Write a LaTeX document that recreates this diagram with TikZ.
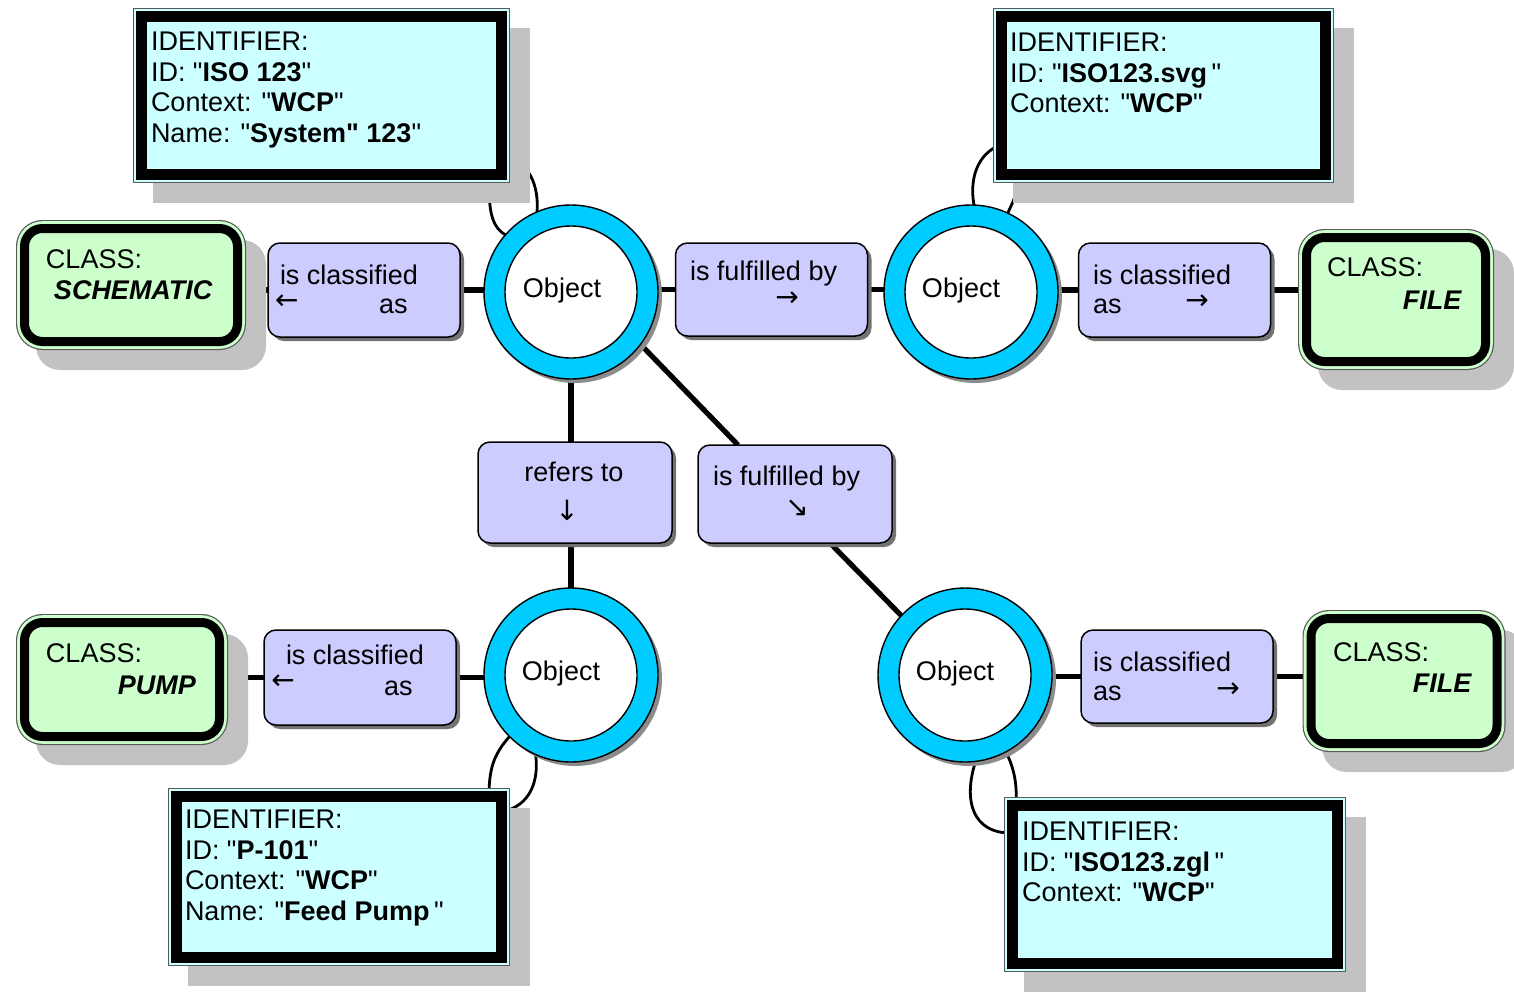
\documentclass[tikz,border=0pt]{standalone}
\usepackage{fontspec}
\newfontfamily\diagfont{Liberation Sans}
\newfontfamily\arrowfont{DejaVu Sans}
\usetikzlibrary{shadows,backgrounds}
\definecolor{ringcyan}{HTML}{00CCFF}
\definecolor{idcyan}{HTML}{CCFFFF}
\definecolor{classgreen}{HTML}{CCFFCC}
\definecolor{relpurple}{HTML}{CCCCFF}
\definecolor{shadowgray}{HTML}{C2C2C2}
\begin{document}
\begin{tikzpicture}[x=0.5pt,y=-0.5pt,
  font=\diagfont\fontsize{13.5}{15.3}\selectfont,
  conn/.style={line width=2.6pt},
  loopc/.style={line width=1.4pt},
  ring/.style={circle, minimum size=87pt, inner sep=0pt, outer sep=0pt, fill=ringcyan, draw=black, line width=0.7pt,
    drop shadow={shadow xshift=2pt, shadow yshift=-2pt, fill=black!45, opacity=1}},
  hole/.style={circle, minimum size=66pt, inner sep=0pt, outer sep=0pt, fill=white, draw=black, line width=0.7pt},
  relbox/.style={rectangle, rounded corners=6pt, minimum width=96pt, inner sep=0pt, outer sep=0pt, fill=relpurple, draw=black, line width=0.75pt,
    drop shadow={shadow xshift=2pt, shadow yshift=-2pt, fill=black!55, opacity=1}},
  classbox/.style={rectangle, rounded corners=9pt, inner sep=0pt, outer sep=0pt, fill=classgreen, draw=black, line width=4.5pt,
    preaction={draw=black!65, line width=8.5pt}, preaction={draw=classgreen, line width=7.3pt}},
  idbox/.style={rectangle, inner sep=0pt, outer sep=0pt, fill=idcyan, draw=black, line width=5.5pt,
    preaction={draw=black!65, line width=8.5pt}, preaction={draw=idcyan, line width=7.3pt}},
  txt/.style={inner sep=0pt, outer sep=0pt},
  idtxt/.style={txt, align=left, anchor=north west},
  arr/.style={txt, font=\arrowfont\fontsize{14}{15.25}\selectfont},
  boxshadow/.style={fill=shadowgray}
]
\useasboundingbox (0,0) rectangle (1514,991);

% ---------- identifier boxes ----------
\node[idbox, minimum width=180pt, minimum height=79pt] (i1) at (321.5,95.5) {};
\node[idbox, minimum width=162pt, minimum height=79pt] (i2) at (1163.5,95.5) {};
\node[idbox, minimum width=162.5pt, minimum height=80.5pt] (i3) at (339,877) {};
\node[idbox, minimum width=162.5pt, minimum height=79pt] (i4) at (1175,884.5) {};

\node[idtxt] (i1t) at (151,32) {IDENTIFIER:\\ID: "\textbf{ISO 123}"\\Context: "\textbf{WCP}"\\Name: "\textbf{System" 123}"};
\node[idtxt] (i2t) at (1010,33) {IDENTIFIER:\\ID: "\textbf{ISO123.svg}\,"\\Context: "\textbf{WCP}"};
\node[idtxt] (i3t) at (185,810) {IDENTIFIER:\\ID: "\textbf{P-101}"\\Context: "\textbf{WCP}"\\Name: "\textbf{Feed Pump}\,"};
\node[idtxt] (i4t) at (1022,822) {IDENTIFIER:\\ID: "\textbf{ISO123.zgl}\,"\\Context: "\textbf{WCP}"};

% ---------- class boxes ----------
\node[classbox, minimum width=106.5pt, minimum height=56.5pt] (k1) at (131,285) {};
\node[classbox, minimum width=89.5pt, minimum height=62pt] (k2) at (1396,299.5) {};
\node[classbox, minimum width=97.5pt, minimum height=57pt] (k3) at (122,679.5) {};
\node[classbox, minimum width=93pt, minimum height=62.5pt] (k4) at (1404,681) {};

\node[txt, anchor=west] (k1a) at (46,259) {CLASS:};
\node[txt, anchor=west] (k1b) at (54,290) {\textbf{\textit{SCHEMATIC}}};
\node[txt, anchor=west] (k2a) at (1327,267) {CLASS:};
\node[txt, anchor=east] (k2b) at (1462,300) {\textbf{\textit{FILE}}};
\node[txt, anchor=west] (k3a) at (46,653) {CLASS:};
\node[txt, anchor=east] (k3b) at (196,685) {\textbf{\textit{PUMP}}};
\node[txt, anchor=west] (k4a) at (1333,652) {CLASS:};
\node[txt, anchor=east] (k4b) at (1472,683) {\textbf{\textit{FILE}}};

% ---------- relation boxes ----------
\node[relbox, minimum height=47pt] (r1) at (364,290) {};
\node[relbox, minimum height=46.5pt] (r2) at (771.5,289.5) {};
\node[relbox, minimum height=47pt] (r3) at (1174.5,290) {};
\node[relbox, minimum width=97pt, minimum height=50.5pt] (r4) at (575,492.5) {};
\node[relbox, minimum width=97pt, minimum height=49pt] (r5) at (795,494) {};
\node[relbox, minimum height=47.5pt] (r6) at (360,677.5) {};
\node[relbox, minimum height=46.5pt] (r7) at (1177,676.5) {};

\node[txt, anchor=west] (r1a) at (280,275) {is classified};
\node[arr, anchor=west] (r1b) at (275,302) {←};
\node[txt, anchor=west] (r1c) at (379,306) {as};
\node[txt, anchor=west] (r2a) at (690,274) {is fulfilled by};
\node[arr] (r2b) at (787,299) {→};
\node[txt, anchor=west] (r3a) at (1093,275) {is classified};
\node[txt, anchor=west] (r3c) at (1093,306) {as};
\node[arr] (r3b) at (1197,302) {→};
\node[txt] (r4a) at (574,472) {refers to};
\node[arr] (r4b) at (567,510) {↓};
\node[txt, anchor=west] (r5a) at (713,479) {is fulfilled by};
\node[arr] (r5b) at (797,508) {↘};
\node[txt, anchor=west] (r6a) at (286,655) {is classified};
\node[arr] (r6b) at (283,682) {←};
\node[txt, anchor=west] (r6c) at (384,688) {as};
\node[txt, anchor=west] (r7a) at (1093,662) {is classified};
\node[txt, anchor=west] (r7c) at (1093,693) {as};
\node[arr] (r7b) at (1228,690) {→};

% ---------- object circles ----------
\node[ring] (c1) at (571,292) {};
\node[hole] (c1h) at (c1) {};
\node[txt] (c1t) at (562,291) {Object};
\node[ring] (c2) at (971,292) {};
\node[hole] (c2h) at (c2) {};
\node[txt] (c2t) at (961,291) {Object};
\node[ring] (c3) at (571,675) {};
\node[hole] (c3h) at (c3) {};
\node[txt] (c3t) at (561,674) {Object};
\node[ring] (c4) at (965,675) {};
\node[hole] (c4h) at (c4) {};
\node[txt] (c4t) at (955,674) {Object};

% ---------- connectors and shadows (behind) ----------
\begin{scope}[on background layer]
  % top row
  \draw[conn] (r1.west -| k1.center) -- (r1.center) -- (r1.center -| c1.center);
  \draw[conn] (r2.center -| c1.center) -- (r2.center) -- (r2.center -| c2.center);
  \draw[conn] (r3.center -| c2.center) -- (r3.center) -- (r3.center -| k2.center);
  % bottom row
  \draw[conn] (r6.center -| k3.center) -- (r6.center) -- (r6.center -| c3.center);
  \draw[conn] (r7.center -| c4.center) -- (r7.center) -- (r7.center -| k4.center);
  % vertical refers to
  \draw[conn] (c1.south) -- (c1.south |- r4.north);
  \draw[conn] (c3.north) -- (c3.north |- r4.south);
  % diagonal is fulfilled by
  \draw[conn] (c1.-37) -- ([xshift=20pt]r5.north west);
  \draw[conn] ([xshift=66pt]r5.south west) -- (c4.137);
  % identifier loops
  \draw[loopc] ([xshift=-5.75pt]i1.south east) .. controls (487,215) and (494,228) .. (c1.139);
  \draw[loopc] ([yshift=-29.75pt]i1.east) .. controls (530,160) and (539,187) .. (c1.113);
  \draw[loopc] ([yshift=-24.75pt]i2.west) .. controls (983,150) and (968,172) .. (c2.88);
  \draw[loopc] ([xshift=8.25pt]i2.south west) .. controls (1018,195) and (1012,203) .. (c2.65);
  \draw[loopc] (c3.-135) .. controls (493,755) and (489,770) .. ([xshift=-6.25pt]i3.north east);
  \draw[loopc] (c3.-114) .. controls (539,780) and (531,806) .. ([yshift=32.5pt]i3.east);
  \draw[loopc] (c4.-83) .. controls (963,800) and (972,834) .. ([yshift=25.75pt]i4.west);
  \draw[loopc] (c4.-62) .. controls (1015,770) and (1017,785) .. ([xshift=1.75pt]i4.north west);
  % box shadows
  \fill[boxshadow] ([shift={(5.75pt,-5.75pt)}]i1.north west) rectangle ([shift={(14.25pt,-14.25pt)}]i1.south east);
  \fill[boxshadow] ([shift={(5.75pt,-5.75pt)}]i2.north west) rectangle ([shift={(14.25pt,-14.25pt)}]i2.south east);
  \fill[boxshadow] ([shift={(5.75pt,-5.75pt)}]i3.north west) rectangle ([shift={(14.25pt,-14.25pt)}]i3.south east);
  \fill[boxshadow] ([shift={(5.75pt,-5.75pt)}]i4.north west) rectangle ([shift={(14.25pt,-14.25pt)}]i4.south east);
  \fill[boxshadow, rounded corners=12pt] ([shift={(5.75pt,-5.75pt)}]k1.north west) rectangle ([shift={(14.25pt,-14.25pt)}]k1.south east);
  \fill[boxshadow, rounded corners=12pt] ([shift={(5.75pt,-5.75pt)}]k2.north west) rectangle ([shift={(14.25pt,-14.25pt)}]k2.south east);
  \fill[boxshadow, rounded corners=12pt] ([shift={(5.75pt,-5.75pt)}]k3.north west) rectangle ([shift={(14.25pt,-14.25pt)}]k3.south east);
  \fill[boxshadow, rounded corners=12pt] ([shift={(5.75pt,-5.75pt)}]k4.north west) rectangle ([shift={(14.25pt,-14.25pt)}]k4.south east);
\end{scope}
\end{tikzpicture}
\end{document}
